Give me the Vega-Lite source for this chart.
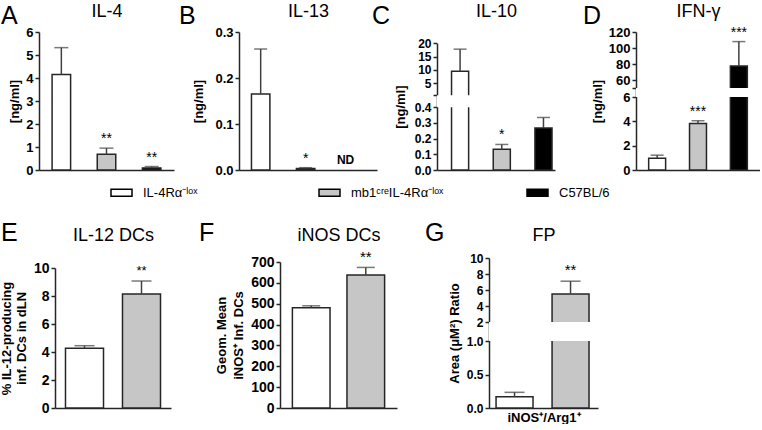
{
  "$schema": "https://vega.github.io/schema/vega-lite/v6.json",
  "padding": {"left": 0, "top": 2, "right": 0, "bottom": 0},
  "datasets": {
    "il4": [
      {"g": "IL-4Rα⁻ˡᵒˣ", "v": 4.15, "hi": 5.32, "sig": ""},
      {"g": "mb1ᶜʳᵉIL-4Rα⁻ˡᵒˣ", "v": 0.68, "hi": 0.95, "sig": "**"},
      {"g": "C57BL/6", "v": 0.09, "hi": 0.15, "sig": "**"}
    ],
    "il13": [
      {"g": "IL-4Rα⁻ˡᵒˣ", "v": 0.165, "hi": 0.263, "sig": ""},
      {"g": "mb1ᶜʳᵉIL-4Rα⁻ˡᵒˣ", "v": 0.003, "hi": 0.005, "sig": "*"},
      {"g": "C57BL/6", "v": null, "hi": null, "sig": "ND"}
    ],
    "il10": [
      {"g": "IL-4Rα⁻ˡᵒˣ", "v": 9.5, "hi": 17.8, "sig": ""},
      {"g": "mb1ᶜʳᵉIL-4Rα⁻ˡᵒˣ", "v": 0.133, "hi": 0.163, "sig": "*"},
      {"g": "C57BL/6", "v": 0.268, "hi": 0.335, "sig": ""}
    ],
    "ifng": [
      {"g": "IL-4Rα⁻ˡᵒˣ", "v": 0.97, "hi": 1.22, "sig": ""},
      {"g": "mb1ᶜʳᵉIL-4Rα⁻ˡᵒˣ", "v": 3.82, "hi": 4.05, "sig": "***"},
      {"g": "C57BL/6", "v": 77.6, "hi": 108, "sig": "***"}
    ],
    "il12": [
      {"g": "IL-4Rα⁻ˡᵒˣ", "v": 4.26, "hi": 4.45, "sig": ""},
      {"g": "mb1ᶜʳᵉIL-4Rα⁻ˡᵒˣ", "v": 8.14, "hi": 9.07, "sig": "**"}
    ],
    "inos": [
      {"g": "IL-4Rα⁻ˡᵒˣ", "v": 481, "hi": 490, "sig": ""},
      {"g": "mb1ᶜʳᵉIL-4Rα⁻ˡᵒˣ", "v": 638, "hi": 674, "sig": "**"}
    ],
    "fp": [
      {"g": "IL-4Rα⁻ˡᵒˣ", "v": 0.169, "hi": 0.234, "sig": ""},
      {"g": "mb1ᶜʳᵉIL-4Rα⁻ˡᵒˣ", "v": 5.5, "hi": 7.1, "sig": "**"}
    ],
    "one": [{"k": 1}]
  },
  "spacing": 44,
  "vconcat": [
    {
      "hconcat": [
        {
          "width": 140, "height": 138,
          "title": {"text": "A", "dx": -38, "offset": -27},
          "data": {"name": "il4"},
          "layer": [
            {"mark": {"type": "bar", "stroke": "#262626", "strokeWidth": 1.5},
             "encoding": {
               "x": {"field": "g", "type": "nominal", "sort": null, "scale": {"domain": ["IL-4Rα⁻ˡᵒˣ", "mb1ᶜʳᵉIL-4Rα⁻ˡᵒˣ", "C57BL/6"], "range": [0, 135], "paddingInner": 0.59, "paddingOuter": 0.29}, "axis": {"orient": "bottom", "labels": false, "ticks": false, "title": null}},
               "y": {"field": "v", "type": "quantitative", "scale": {"domain": [0, 6], "range": [138, 0], "nice": false, "zero": false}, "axis": {"values": [0, 1, 2, 3, 4, 5, 6], "tickCount": 40, "format": "d", "title": "[ng/ml]", "titlePadding": 4}},
               "fill": {"field": "g", "type": "nominal", "scale": {"domain": ["IL-4Rα⁻ˡᵒˣ", "mb1ᶜʳᵉIL-4Rα⁻ˡᵒˣ", "C57BL/6"], "range": ["#ffffff", "#c6c6c6", "#000000"]},
                 "legend": {"orient": "none", "legendX": 71, "legendY": 149, "direction": "horizontal", "title": null, "symbolType": "M-1,-0.33H1V0.33H-1Z", "symbolSize": 441, "symbolStrokeColor": "#000000", "symbolStrokeWidth": 1.5, "labelFontSize": 13, "labelColor": "#000000", "labelOffset": 10, "columnPadding": 80, "gridAlign": "all", "labelLimit": 300}}
             }},
            {"mark": {"type": "rule", "color": "#404040", "strokeWidth": 1.5},
             "encoding": {
               "x": {"field": "g", "type": "nominal", "sort": null, "axis": {"orient": "top", "labels": false, "ticks": false, "domain": false, "title": "IL-4", "titleFontSize": 18, "titleFontWeight": "normal", "titlePadding": 12}},
               "y": {"field": "v", "type": "quantitative"},
               "y2": {"field": "hi"}
             }},
            {"mark": {"type": "tick", "color": "#404040", "thickness": 1.5, "size": 14},
             "encoding": {
               "x": {"field": "g", "type": "nominal", "sort": null, "axis": null},
               "y": {"field": "hi", "type": "quantitative"}
             }},
            {"transform": [{"filter": "datum.sig != 'ND'"}],
             "mark": {"type": "text", "baseline": "bottom", "dy": -2, "fontSize": 14},
             "encoding": {
               "x": {"field": "g", "type": "nominal", "sort": null, "axis": null},
               "y": {"field": "hi", "type": "quantitative"},
               "text": {"field": "sig"}
             }}
          ]
        },
        {
          "width": 138, "height": 138,
          "title": {"text": "B", "dx": -60, "offset": -27},
          "data": {"name": "il13"},
          "layer": [
            {"mark": {"type": "bar", "stroke": "#262626", "strokeWidth": 1.5},
             "encoding": {
               "x": {"field": "g", "type": "nominal", "sort": null, "scale": {"domain": ["IL-4Rα⁻ˡᵒˣ", "mb1ᶜʳᵉIL-4Rα⁻ˡᵒˣ", "C57BL/6"], "paddingInner": 0.59, "paddingOuter": 0.33, "align": 0.42}, "axis": {"orient": "bottom", "labels": false, "ticks": false, "title": null}},
               "y": {"field": "v", "type": "quantitative", "scale": {"domain": [0, 0.3], "range": [138, 0], "nice": false, "zero": false}, "axis": {"values": [0, 0.1, 0.2, 0.3], "tickCount": 40, "format": ".1f", "title": "[ng/ml]", "titlePadding": 9}},
               "fill": {"field": "g", "type": "nominal", "scale": {"domain": ["IL-4Rα⁻ˡᵒˣ", "mb1ᶜʳᵉIL-4Rα⁻ˡᵒˣ", "C57BL/6"], "range": ["#ffffff", "#c6c6c6", "#000000"]}, "legend": null}
             }},
            {"mark": {"type": "rule", "color": "#404040", "strokeWidth": 1.5},
             "encoding": {
               "x": {"field": "g", "type": "nominal", "sort": null, "axis": {"orient": "top", "labels": false, "ticks": false, "domain": false, "title": "IL-13", "titleFontSize": 18, "titleFontWeight": "normal", "titlePadding": 12}},
               "y": {"field": "v", "type": "quantitative"},
               "y2": {"field": "hi"}
             }},
            {"mark": {"type": "tick", "color": "#404040", "thickness": 1.5, "size": 13},
             "encoding": {
               "x": {"field": "g", "type": "nominal", "sort": null, "axis": null},
               "y": {"field": "hi", "type": "quantitative"}
             }},
            {"transform": [{"filter": "datum.sig != 'ND'"}],
             "mark": {"type": "text", "baseline": "bottom", "dy": -2, "fontSize": 14},
             "encoding": {
               "x": {"field": "g", "type": "nominal", "sort": null, "axis": null},
               "y": {"field": "hi", "type": "quantitative"},
               "text": {"field": "sig"}
             }},
            {"transform": [{"filter": "datum.sig == 'ND'"}],
             "mark": {"type": "text", "baseline": "bottom", "dy": -3, "dx": -5, "fontSize": 12, "fontWeight": "bold"},
             "encoding": {
               "x": {"field": "g", "type": "nominal", "sort": null, "axis": null},
               "y": {"datum": 0},
               "text": {"field": "sig"}
             }}
          ]
        },
        {
          "width": 139, "height": 138,
          "title": {"text": "C", "dx": -65, "offset": -27},
          "data": {"name": "il10"},
          "layer": [
            {"mark": {"type": "bar", "stroke": "#262626", "strokeWidth": 1.5},
             "encoding": {
               "x": {"field": "g", "type": "nominal", "sort": null, "scale": {"domain": ["IL-4Rα⁻ˡᵒˣ", "mb1ᶜʳᵉIL-4Rα⁻ˡᵒˣ", "C57BL/6"], "range": [0, 118], "paddingInner": 0.59, "paddingOuter": 0.21, "align": 0.83}, "axis": {"orient": "bottom", "labels": false, "ticks": false, "title": null}},
               "y": {"field": "v", "type": "quantitative", "scale": {"domain": [0, 0.4, 0.5, 20], "range": [138, 75.3, 63.3, 11.3], "nice": false, "zero": false}, "axis": {"values": [0, 0.1, 0.2, 0.3, 0.4, 0.5, 5, 10, 15, 20], "tickCount": 40, "labelFontSize": 12, "labelExpr": "datum.value == 0.5 ? '' : (datum.value < 1 ? format(datum.value, '.1f') : format(datum.value, 'd'))", "title": "[ng/ml]", "titlePadding": 7}},
               "fill": {"field": "g", "type": "nominal", "scale": {"domain": ["IL-4Rα⁻ˡᵒˣ", "mb1ᶜʳᵉIL-4Rα⁻ˡᵒˣ", "C57BL/6"], "range": ["#ffffff", "#c6c6c6", "#000000"]}, "legend": null}
             }},
            {"mark": {"type": "rule", "color": "#404040", "strokeWidth": 1.5},
             "encoding": {
               "x": {"field": "g", "type": "nominal", "sort": null, "axis": {"orient": "top", "labels": false, "ticks": false, "domain": false, "title": "IL-10", "titleFontSize": 18, "titleFontWeight": "normal", "titlePadding": 12}},
               "y": {"field": "v", "type": "quantitative"},
               "y2": {"field": "hi"}
             }},
            {"mark": {"type": "tick", "color": "#404040", "thickness": 1.5, "size": 13},
             "encoding": {
               "x": {"field": "g", "type": "nominal", "sort": null, "axis": null},
               "y": {"field": "hi", "type": "quantitative"}
             }},
            {"transform": [{"filter": "datum.sig != 'ND'"}],
             "mark": {"type": "text", "baseline": "bottom", "dy": -2, "fontSize": 14},
             "encoding": {
               "x": {"field": "g", "type": "nominal", "sort": null, "axis": null},
               "y": {"field": "hi", "type": "quantitative"},
               "text": {"field": "sig"}
             }},
            {"data": {"name": "one"},
             "mark": {"type": "rect", "fill": "#ffffff"},
             "encoding": {
               "y": {"datum": 0.4},
               "y2": {"datum": 0.5}
             }}
          ]
        },
        {
          "width": 124, "height": 138,
          "title": {"text": "D", "dx": -53, "offset": -27},
          "data": {"name": "ifng"},
          "layer": [
            {"mark": {"type": "bar", "stroke": "#262626", "strokeWidth": 1.5},
             "encoding": {
               "x": {"field": "g", "type": "nominal", "sort": null, "scale": {"domain": ["IL-4Rα⁻ˡᵒˣ", "mb1ᶜʳᵉIL-4Rα⁻ˡᵒˣ", "C57BL/6"], "paddingInner": 0.585, "paddingOuter": 0.31}, "axis": {"orient": "bottom", "labels": false, "ticks": false, "title": null}},
               "y": {"field": "v", "type": "quantitative", "scale": {"domain": [0, 6, 50, 120], "range": [138, 65, 56, 0], "nice": false, "zero": false}, "axis": {"values": [0, 2, 4, 6, 50, 60, 80, 100, 120], "tickCount": 40, "labelExpr": "datum.value == 50 ? '' : format(datum.value, 'd')", "title": "[ng/ml]", "titlePadding": 4}},
               "fill": {"field": "g", "type": "nominal", "scale": {"domain": ["IL-4Rα⁻ˡᵒˣ", "mb1ᶜʳᵉIL-4Rα⁻ˡᵒˣ", "C57BL/6"], "range": ["#ffffff", "#c6c6c6", "#000000"]}, "legend": null}
             }},
            {"mark": {"type": "rule", "color": "#404040", "strokeWidth": 1.5},
             "encoding": {
               "x": {"field": "g", "type": "nominal", "sort": null, "axis": {"orient": "top", "labels": false, "ticks": false, "domain": false, "title": "IFN-γ", "titleFontSize": 18, "titleFontWeight": "normal", "titlePadding": 12}},
               "y": {"field": "v", "type": "quantitative"},
               "y2": {"field": "hi"}
             }},
            {"mark": {"type": "tick", "color": "#404040", "thickness": 1.5, "size": 13},
             "encoding": {
               "x": {"field": "g", "type": "nominal", "sort": null, "axis": null},
               "y": {"field": "hi", "type": "quantitative"}
             }},
            {"transform": [{"filter": "datum.sig != 'ND'"}],
             "mark": {"type": "text", "baseline": "bottom", "dy": -2, "fontSize": 14},
             "encoding": {
               "x": {"field": "g", "type": "nominal", "sort": null, "axis": null},
               "y": {"field": "hi", "type": "quantitative"},
               "text": {"field": "sig"}
             }},
            {"data": {"name": "one"},
             "mark": {"type": "rect", "fill": "#ffffff"},
             "encoding": {
               "y": {"datum": 6},
               "y2": {"datum": 50}
             }}
          ]
        }
      ],
      "spacing": 60,
      "bounds": "flush"
    },
    {
      "hconcat": [
        {
          "width": 181, "height": 150,
          "title": {"text": "E", "dx": -38, "offset": -20},
          "data": {"name": "il12"},
          "layer": [
            {"mark": {"type": "bar", "stroke": "#262626", "strokeWidth": 1.5},
             "encoding": {
               "x": {"field": "g", "type": "nominal", "sort": null, "scale": {"domain": ["IL-4Rα⁻ˡᵒˣ", "mb1ᶜʳᵉIL-4Rα⁻ˡᵒˣ"], "range": [16, 132], "paddingInner": 0.333, "paddingOuter": 0.184}, "axis": {"orient": "bottom", "labels": false, "ticks": false, "title": null}},
               "y": {"field": "v", "type": "quantitative", "scale": {"domain": [0, 10], "range": [150, 10], "nice": false, "zero": false}, "axis": {"offset": -16, "values": [0, 2, 4, 6, 8, 10], "tickCount": 40, "format": "d", "labelFontSize": 14, "title": ["% IL-12-producing", "inf. DCs in dLN"], "titleFontSize": 13, "titleLineHeight": 15, "titlePadding": 5}},
               "fill": {"field": "g", "type": "nominal", "scale": {"domain": ["IL-4Rα⁻ˡᵒˣ", "mb1ᶜʳᵉIL-4Rα⁻ˡᵒˣ", "C57BL/6"], "range": ["#ffffff", "#c6c6c6", "#000000"]}, "legend": null}
             }},
            {"mark": {"type": "rule", "color": "#404040", "strokeWidth": 1.5},
             "encoding": {
               "x": {"field": "g", "type": "nominal", "sort": null, "axis": {"orient": "top", "labels": false, "ticks": false, "domain": false, "title": "IL-12 DCs", "titleFontSize": 18, "titleFontWeight": "normal", "titlePadding": 14}},
               "y": {"field": "v", "type": "quantitative"},
               "y2": {"field": "hi"}
             }},
            {"mark": {"type": "tick", "color": "#404040", "thickness": 1.5, "size": 20},
             "encoding": {
               "x": {"field": "g", "type": "nominal", "sort": null, "axis": null},
               "y": {"field": "hi", "type": "quantitative"}
             }},
            {"mark": {"type": "text", "baseline": "bottom", "dy": -3, "fontSize": 13},
             "encoding": {
               "x": {"field": "g", "type": "nominal", "sort": null, "axis": null},
               "y": {"field": "hi", "type": "quantitative"},
               "text": {"field": "sig"}
             }}
          ]
        },
        {
          "width": 149, "height": 150,
          "title": {"text": "F", "dx": -81, "offset": -20},
          "data": {"name": "inos"},
          "layer": [
            {"mark": {"type": "bar", "stroke": "#262626", "strokeWidth": 1.5},
             "encoding": {
               "x": {"field": "g", "type": "nominal", "sort": null, "scale": {"domain": ["IL-4Rα⁻ˡᵒˣ", "mb1ᶜʳᵉIL-4Rα⁻ˡᵒˣ"], "range": [0, 117], "paddingInner": 0.31, "paddingOuter": 0.227}, "axis": {"orient": "bottom", "labels": false, "ticks": false, "title": null}},
               "y": {"field": "v", "type": "quantitative", "scale": {"domain": [0, 700], "range": [150, 4], "nice": false, "zero": false}, "axis": {"values": [0, 100, 200, 300, 400, 500, 600, 700], "tickCount": 40, "format": "d", "labelFontSize": 14, "title": ["Geom. Mean", "iNOS⁺ Inf. DCs"], "titleFontSize": 13, "titleLineHeight": 17, "titlePadding": 5}},
               "fill": {"field": "g", "type": "nominal", "scale": {"domain": ["IL-4Rα⁻ˡᵒˣ", "mb1ᶜʳᵉIL-4Rα⁻ˡᵒˣ", "C57BL/6"], "range": ["#ffffff", "#c6c6c6", "#000000"]}, "legend": null}
             }},
            {"mark": {"type": "rule", "color": "#404040", "strokeWidth": 1.5},
             "encoding": {
               "x": {"field": "g", "type": "nominal", "sort": null, "axis": {"orient": "top", "labels": false, "ticks": false, "domain": false, "title": "iNOS DCs", "titleFontSize": 18, "titleFontWeight": "normal", "titlePadding": 14}},
               "y": {"field": "v", "type": "quantitative"},
               "y2": {"field": "hi"}
             }},
            {"mark": {"type": "tick", "color": "#404040", "thickness": 1.5, "size": 18},
             "encoding": {
               "x": {"field": "g", "type": "nominal", "sort": null, "axis": null},
               "y": {"field": "hi", "type": "quantitative"}
             }},
            {"mark": {"type": "text", "baseline": "bottom", "dy": -2, "fontSize": 15},
             "encoding": {
               "x": {"field": "g", "type": "nominal", "sort": null, "axis": null},
               "y": {"field": "hi", "type": "quantitative"},
               "text": {"field": "sig"}
             }}
          ]
        },
        {
          "width": 109, "height": 150,
          "title": {"text": "G", "dx": -64, "offset": -20},
          "data": {"name": "fp"},
          "layer": [
            {"mark": {"type": "bar", "stroke": "#262626", "strokeWidth": 1.5},
             "encoding": {
               "x": {"field": "g", "type": "nominal", "sort": null, "scale": {"domain": ["IL-4Rα⁻ˡᵒˣ", "mb1ᶜʳᵉIL-4Rα⁻ˡᵒˣ"], "paddingInner": 0.34, "paddingOuter": 0.143, "align": 0.44}, "axis": {"orient": "bottom", "labels": false, "ticks": false, "title": "iNOS⁺/Arg1⁺", "titleFontSize": 13, "titlePadding": 3}},
               "y": {"field": "v", "type": "quantitative", "scale": {"domain": [0, 1, 2, 10], "range": [150, 83, 64, 0], "nice": false, "zero": false}, "axis": {"values": [0, 0.5, 1, 2, 4, 6, 8, 10], "tickCount": 40, "labelExpr": "datum.value <= 1 ? format(datum.value, '.1f') : format(datum.value, 'd')", "labelFontSize": 12, "title": "Area (μM²) Ratio", "titleFontSize": 13, "titlePadding": 5}},
               "fill": {"field": "g", "type": "nominal", "scale": {"domain": ["IL-4Rα⁻ˡᵒˣ", "mb1ᶜʳᵉIL-4Rα⁻ˡᵒˣ", "C57BL/6"], "range": ["#ffffff", "#c6c6c6", "#000000"]}, "legend": null}
             }},
            {"mark": {"type": "rule", "color": "#404040", "strokeWidth": 1.5},
             "encoding": {
               "x": {"field": "g", "type": "nominal", "sort": null, "axis": {"orient": "top", "labels": false, "ticks": false, "domain": false, "title": "FP", "titleFontSize": 18, "titleFontWeight": "normal", "titlePadding": 14}},
               "y": {"field": "v", "type": "quantitative"},
               "y2": {"field": "hi"}
             }},
            {"mark": {"type": "tick", "color": "#404040", "thickness": 1.5, "size": 20},
             "encoding": {
               "x": {"field": "g", "type": "nominal", "sort": null, "axis": null},
               "y": {"field": "hi", "type": "quantitative"}
             }},
            {"mark": {"type": "text", "baseline": "bottom", "dy": -3, "fontSize": 15},
             "encoding": {
               "x": {"field": "g", "type": "nominal", "sort": null, "axis": null},
               "y": {"field": "hi", "type": "quantitative"},
               "text": {"field": "sig"}
             }},
            {"data": {"name": "one"},
             "mark": {"type": "rect", "fill": "#ffffff"},
             "encoding": {
               "y": {"datum": 1},
               "y2": {"datum": 2}
             }}
          ]
        }
      ],
      "spacing": 60,
      "bounds": "flush"
    }
  ],
  "config": {
    "font": "Liberation Sans",
    "background": "#ffffff",
    "view": {"stroke": null},
    "axis": {"grid": false, "domainColor": "#262626", "domainWidth": 1.5, "tickColor": "#262626", "tickWidth": 1.5, "tickSize": 4, "labelFontWeight": "bold", "labelFontSize": 13, "labelColor": "#000000", "labelPadding": 2, "labelOverlap": false, "titleFontWeight": "bold", "titleFontSize": 13, "titleColor": "#000000"},
    "title": {"fontSize": 25, "fontWeight": "normal", "color": "#000000", "anchor": "start", "frame": "group", "baseline": "alphabetic"},
    "text": {"color": "#000000"}
  }
}
